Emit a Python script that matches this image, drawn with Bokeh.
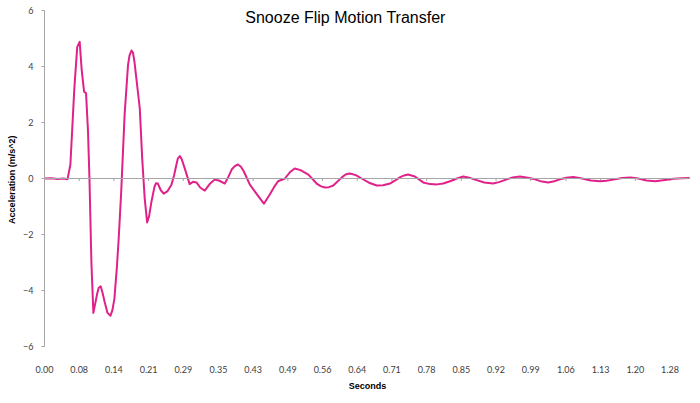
from bokeh.plotting import figure
from bokeh.models import Range1d, FixedTicker, Span, Label
from bokeh.embed import file_html
from bokeh.resources import INLINE

# time (s) and acceleration (m/s^2)
seconds = [0.000, 0.014, 0.027, 0.039, 0.047, 0.053, 0.061, 0.067, 0.072, 0.076,
           0.081, 0.085, 0.089, 0.092, 0.096, 0.100, 0.104, 0.108, 0.111, 0.115,
           0.119, 0.123, 0.129, 0.135, 0.139, 0.143, 0.148, 0.152, 0.157, 0.164,
           0.171, 0.174, 0.178, 0.181, 0.184, 0.195, 0.200, 0.205, 0.210, 0.214,
           0.219, 0.225, 0.228, 0.232, 0.238, 0.244, 0.252, 0.260, 0.265, 0.270,
           0.273, 0.277, 0.281, 0.287, 0.297, 0.304, 0.311, 0.319, 0.328, 0.338,
           0.348, 0.358, 0.369, 0.376, 0.383, 0.390, 0.396, 0.402, 0.408, 0.420,
           0.434, 0.449, 0.461, 0.470, 0.478, 0.492, 0.502, 0.512, 0.524, 0.540,
           0.557, 0.566, 0.574, 0.582, 0.591, 0.609, 0.617, 0.625, 0.637, 0.649,
           0.664, 0.680, 0.693, 0.707, 0.717, 0.727, 0.736, 0.744, 0.758, 0.775,
           0.789, 0.803, 0.816, 0.830, 0.844, 0.857, 0.869, 0.881, 0.900, 0.918,
           0.930, 0.943, 0.958, 0.973, 0.989, 1.004, 1.018, 1.031, 1.043, 1.055,
           1.068, 1.082, 1.100, 1.118, 1.137, 1.150, 1.164, 1.182, 1.199, 1.215,
           1.232, 1.250, 1.270, 1.287, 1.305, 1.320]
accel = [0.00, 0.01, -0.02, 0.00, -0.03, 0.50, 3.20, 4.70, 4.88, 3.90,
         3.10, 3.05, 1.70, 0.00, -3.00, -4.80, -4.45, -4.10, -3.90, -3.85,
         -4.10, -4.40, -4.80, -4.90, -4.70, -4.30, -3.20, -2.10, -0.46, 2.30,
         4.07, 4.40, 4.57, 4.50, 4.18, 2.50, 0.70, -0.70, -1.57, -1.35,
         -0.82, -0.30, -0.17, -0.18, -0.42, -0.54, -0.45, -0.21, 0.10, 0.50,
         0.72, 0.80, 0.68, 0.36, -0.20, -0.12, -0.14, -0.33, -0.43, -0.20,
         -0.04, -0.08, -0.18, 0.05, 0.32, 0.45, 0.50, 0.42, 0.25, -0.21,
         -0.55, -0.90, -0.57, -0.30, -0.10, 0.00, 0.22, 0.36, 0.30, 0.14,
         -0.18, -0.28, -0.32, -0.31, -0.25, 0.05, 0.15, 0.18, 0.12, 0.00,
         -0.15, -0.25, -0.24, -0.18, -0.08, 0.04, 0.11, 0.14, 0.07, -0.14,
         -0.20, -0.21, -0.18, -0.10, 0.00, 0.07, 0.03, -0.04, -0.14, -0.18,
         -0.13, -0.05, 0.04, 0.07, 0.03, -0.03, -0.11, -0.14, -0.10, -0.03,
         0.03, 0.05, 0.00, -0.07, -0.10, -0.08, -0.04, 0.02, 0.04, 0.00,
         -0.07, -0.10, -0.05, -0.01, 0.01, 0.02]

x_tick_pos = [0.000, 0.071, 0.142, 0.213, 0.284, 0.356, 0.427, 0.498, 0.569, 0.640,
              0.711, 0.782, 0.853, 0.924, 0.995, 1.067, 1.138, 1.209, 1.280]
x_tick_labels = ["0.00", "0.08", "0.14", "0.21", "0.29", "0.35", "0.43", "0.49", "0.56",
                 "0.64", "0.71", "0.78", "0.85", "0.92", "0.99", "1.06", "1.13", "1.20", "1.28"]
y_ticks = [-6, -4, -2, 0, 2, 4, 6]

p = figure(width=700, height=403, output_backend="svg", toolbar_location=None,
           x_range=Range1d(0, 1.322), y_range=Range1d(-6, 6),
           min_border_left=44, min_border_right=10, min_border_top=10, min_border_bottom=57)
p.outline_line_color = None
p.xgrid.visible = False
p.ygrid.visible = False
p.background_fill_color = "white"

tick_col = "#404040"
axis_col = "#A6A6A6"

# x axis (labels only, at bottom)
p.xaxis.ticker = FixedTicker(ticks=x_tick_pos, minor_ticks=[])
p.xaxis.major_label_overrides = {t: l for t, l in zip(x_tick_pos, x_tick_labels)}
p.xaxis.axis_line_color = None
p.xaxis.major_tick_line_color = None
p.xaxis.minor_tick_line_color = None
p.xaxis.major_label_standoff = 13
p.xaxis.major_label_text_font = "Lato"
p.xaxis.major_label_text_font_size = "9px"
p.xaxis.major_label_text_color = tick_col
p.xaxis.axis_label = "Seconds"
p.xaxis.axis_label_text_font = "Liberation Sans"
p.xaxis.axis_label_text_font_style = "bold"
p.xaxis.axis_label_text_font_size = "9px"
p.xaxis.axis_label_text_color = "black"
p.xaxis.axis_label_standoff = 5

# y axis
p.yaxis.ticker = FixedTicker(ticks=y_ticks, minor_ticks=[])
p.yaxis.axis_line_color = axis_col
p.yaxis.major_tick_line_color = axis_col
p.yaxis.major_tick_out = 3
p.yaxis.major_tick_in = 0
p.yaxis.minor_tick_line_color = None
p.yaxis.major_label_standoff = 8
p.yaxis.major_label_text_font = "Lato"
p.yaxis.major_label_text_font_size = "9px"
p.yaxis.major_label_text_color = tick_col
p.yaxis.axis_label = "Acceleration  (m/s^2)"
p.yaxis.axis_label_text_font = "Liberation Sans"
p.yaxis.axis_label_text_font_style = "bold"
p.yaxis.axis_label_text_font_size = "9px"
p.yaxis.axis_label_text_color = "black"
p.yaxis.axis_label_standoff = 3

# zero (category) axis line with small tick marks
p.add_layout(Span(location=0, dimension="width", line_color=axis_col, line_width=1))
p.segment(x0=x_tick_pos, y0=[0] * len(x_tick_pos), x1=x_tick_pos, y1=[-0.09] * len(x_tick_pos),
          line_color=axis_col, line_width=1)

p.line(seconds, accel, line_color="#E0218A", line_width=2, line_join="round")

p.add_layout(Label(x=0.625, y=5.75, text="Snooze  Flip Motion  Transfer",
                   text_align="center", text_baseline="middle",
                   text_font="Liberation Sans", text_font_size="16px", text_color="black"))

open("out.html", "w").write(file_html(p, INLINE))
